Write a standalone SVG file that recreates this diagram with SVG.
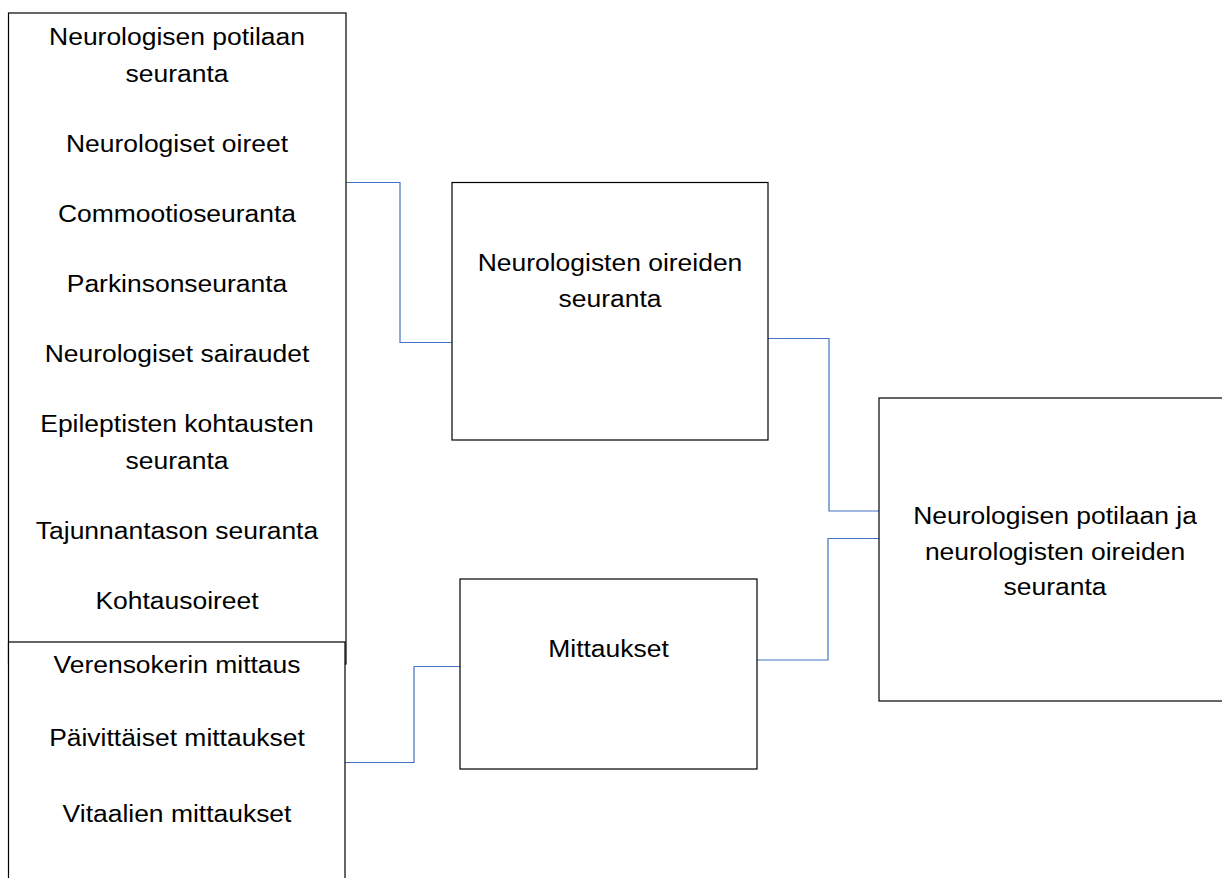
<svg xmlns="http://www.w3.org/2000/svg" width="1222" height="878" viewBox="0 0 1222 878">
  <style>
    .box { fill: #ffffff; stroke: #000000; stroke-width: 1.2; }
    .link { fill: none; stroke: #4472c4; stroke-width: 1.2; }
    .lbl { font-family: "Liberation Sans", Arial, Helvetica, sans-serif; font-size: 24.5px; fill: #000000; text-anchor: middle; }
  </style>
  <rect x="0" y="0" width="1222" height="878" fill="#ffffff"/>

  <!-- connectors -->
  <g id="connectors">
    <path class="link" d="M346,182.5 H400 V342.5 H452"/>
    <path class="link" d="M768,338.5 H829 V511 H879"/>
    <path class="link" d="M757,660 H828 V538.5 H879"/>
    <path class="link" d="M345,762.5 H414 V666.5 H460"/>
  </g>

  <!-- neurological monitoring list -->
  <g id="node-neuro-list">
    <rect class="box" x="8.5" y="13" width="337.5" height="651"/>
    <g transform="translate(177 0) scale(1.08 1)">
      <text class="lbl" x="0" y="45">Neurologisen potilaan</text>
      <text class="lbl" x="0" y="82">seuranta</text>
      <text class="lbl" x="0" y="152">Neurologiset oireet</text>
      <text class="lbl" x="0" y="222">Commootioseuranta</text>
      <text class="lbl" x="0" y="292">Parkinsonseuranta</text>
      <text class="lbl" x="0" y="362">Neurologiset sairaudet</text>
      <text class="lbl" x="0" y="432">Epileptisten kohtausten</text>
      <text class="lbl" x="0" y="469">seuranta</text>
      <text class="lbl" x="0" y="539">Tajunnantason seuranta</text>
      <text class="lbl" x="0" y="609">Kohtausoireet</text>
    </g>
  </g>

  <!-- measurements list -->
  <g id="node-measure-list">
    <rect class="box" x="8.5" y="642" width="336.5" height="300"/>
    <g transform="translate(177 0) scale(1.08 1)">
      <text class="lbl" x="0" y="673">Verensokerin mittaus</text>
      <text class="lbl" x="0" y="746">Päivittäiset mittaukset</text>
      <text class="lbl" x="0" y="822">Vitaalien mittaukset</text>
    </g>
  </g>

  <!-- symptom monitoring -->
  <g id="node-symptoms">
    <rect class="box" x="452" y="182.5" width="316" height="257.5"/>
    <g transform="translate(610 0) scale(1.08 1)">
      <text class="lbl" x="0" y="271">Neurologisten oireiden</text>
      <text class="lbl" x="0" y="307">seuranta</text>
    </g>
  </g>

  <!-- measurements -->
  <g id="node-measurements">
    <rect class="box" x="460" y="579" width="297" height="190"/>
    <g transform="translate(608.5 0) scale(1.08 1)">
      <text class="lbl" x="0" y="657">Mittaukset</text>
    </g>
  </g>

  <!-- combined monitoring -->
  <g id="node-combined">
    <rect class="box" x="879" y="398" width="360" height="303"/>
    <g transform="translate(1055 0) scale(1.08 1)">
      <text class="lbl" x="0" y="524">Neurologisen potilaan ja</text>
      <text class="lbl" x="0" y="560">neurologisten oireiden</text>
      <text class="lbl" x="0" y="595">seuranta</text>
    </g>
  </g>
</svg>
